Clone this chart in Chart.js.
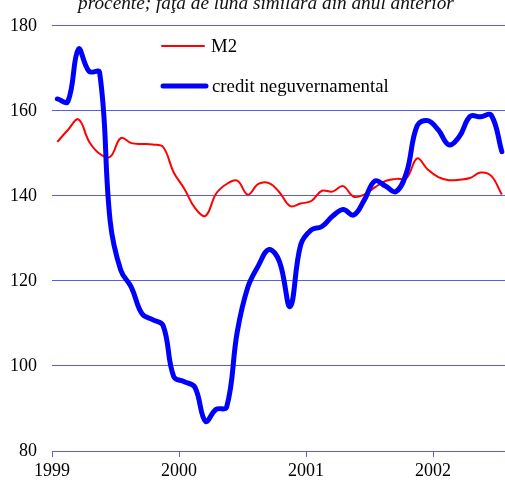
<!DOCTYPE html>
<html>
<head>
<meta charset="utf-8">
<script src="https://cdn.jsdelivr.net/npm/chart.js@4/dist/chart.umd.min.js"></script>
<style>
  html, body { margin: 0; padding: 0; background: #fff; }
  #wrap { width: 505px; height: 482px; position: relative; }
</style>
</head>
<body>
<div id="wrap"><canvas id="c"></canvas></div>
<script>
// monthly values, Jan 1999 .. Jul 2002 (x = month index from Jan 1999)
const months = [];
for (let i = 0; i < 43; i++) months.push(i + 0.5);

const m2 = [
    152.7, 155.5, 158.0, 152.8, 149.9, 149.2, 153.6, 152.4, 152.2, 152.1, 151.5, 145.5,
    141.7, 137.2, 135.3, 140.5, 142.8, 143.6, 140.3, 142.8, 143.0, 140.8, 137.6, 138.2,
    138.8, 141.2, 141.0, 142.3, 139.8, 140.3, 142.0, 143.5, 144.0, 144.2, 148.8, 146.2,
    144.4, 143.7, 143.8, 144.2, 145.5, 144.7, 140.3
];

const credit = [
    162.8, 162.2, 174.5, 169.3, 169.0, 134.0, 122.5, 118.5, 112.3, 110.9, 109.5, 97.5,
    96.3, 95.0, 87.0, 89.8, 90.3, 108.0, 118.5, 123.6, 127.4, 124.5, 114.0, 128.5,
    132.0, 132.8, 135.2, 136.8, 135.5, 139.0, 143.5, 142.3, 141.0, 145.5, 156.5, 157.7,
    155.5, 152.0, 154.0, 158.7, 158.6, 159.0, 150.4
];

const yearTicks = [0, 12, 24, 36];
const yearLabels = ['1999', '2000', '2001', '2002'];
const seriesNames = ['M2', 'credit neguvernamental'];

const gridBlue = '#5a5af0';
const serif = "'Liberation Serif', 'Times New Roman', serif";

const toPoints = (vals) => vals.map((v, i) => ({ x: months[i], y: v }));

const extras = {
    id: 'extras',
    afterDraw(chart) {
        const ctx = chart.ctx;
        ctx.save();
        // title, cut off at the top of the picture
        ctx.font = "italic 19.3px " + serif;
        ctx.fillStyle = '#111';
        ctx.textBaseline = 'alphabetic';
        ctx.textAlign = 'left';
        ctx.fillText('procente; faţa de luna similară din anul anterior', 78, 9);

        // legend
        ctx.lineCap = 'round';
        ctx.strokeStyle = '#ff0000';
        ctx.lineWidth = 2;
        ctx.beginPath(); ctx.moveTo(162, 46); ctx.lineTo(204, 46); ctx.stroke();
        ctx.strokeStyle = '#0000ff';
        ctx.lineWidth = 5;
        ctx.beginPath(); ctx.moveTo(163, 86); ctx.lineTo(206, 86); ctx.stroke();
        ctx.font = "18.8px " + serif;
        ctx.fillStyle = '#000';
        ctx.textBaseline = 'middle';
        ctx.fillText(seriesNames[0], 211, 47);
        ctx.fillText(seriesNames[1], 212, 87);
        ctx.restore();
    }
};

new Chart(document.getElementById('c'), {
    type: 'line',
    data: {
        datasets: [{
            label: seriesNames[0],
            data: toPoints(m2),
            borderColor: '#ff0000',
            borderWidth: 2,
            pointRadius: 0,
            tension: 0.4,
            fill: false,
            order: 2
        }, {
            label: seriesNames[1],
            data: toPoints(credit),
            borderColor: '#0000ff',
            borderWidth: 5,
            borderCapStyle: 'round',
            borderJoinStyle: 'round',
            pointRadius: 0,
            tension: 0.4,
            fill: false,
            order: 1
        }]
    },
    options: {
        responsive: true,
        maintainAspectRatio: false,
        animation: false,
        layout: { padding: { top: 21, right: 0, left: 0, bottom: 0 } },
        plugins: {
            legend: { display: false },
            tooltip: { enabled: false }
        },
        scales: {
            x: {
                type: 'linear',
                min: 0,
                max: 42.8,
                afterBuildTicks: (axis) => { axis.ticks = yearTicks.map(v => ({ value: v })); },
                afterFit: (axis) => { axis.height = 31; },
                border: { display: false },
                grid: {
                    drawOnChartArea: false,
                    drawTicks: true,
                    tickLength: 6,
                    color: gridBlue
                },
                ticks: {
                    autoSkip: false,
                    maxRotation: 0,
                    padding: 3,
                    color: '#000',
                    font: { family: serif, size: 18 },
                    callback: (v) => yearLabels[yearTicks.indexOf(v)]
                }
            },
            y: {
                min: 80,
                max: 180,
                afterFit: (axis) => { axis.width = 52; },
                border: { display: false },
                grid: {
                    color: gridBlue,
                    lineWidth: 1,
                    drawTicks: false
                },
                ticks: {
                    stepSize: 20,
                    padding: 15,
                    color: '#000',
                    font: { family: serif, size: 18 }
                }
            }
        }
    },
    plugins: [extras]
});
</script>
</body>
</html>
